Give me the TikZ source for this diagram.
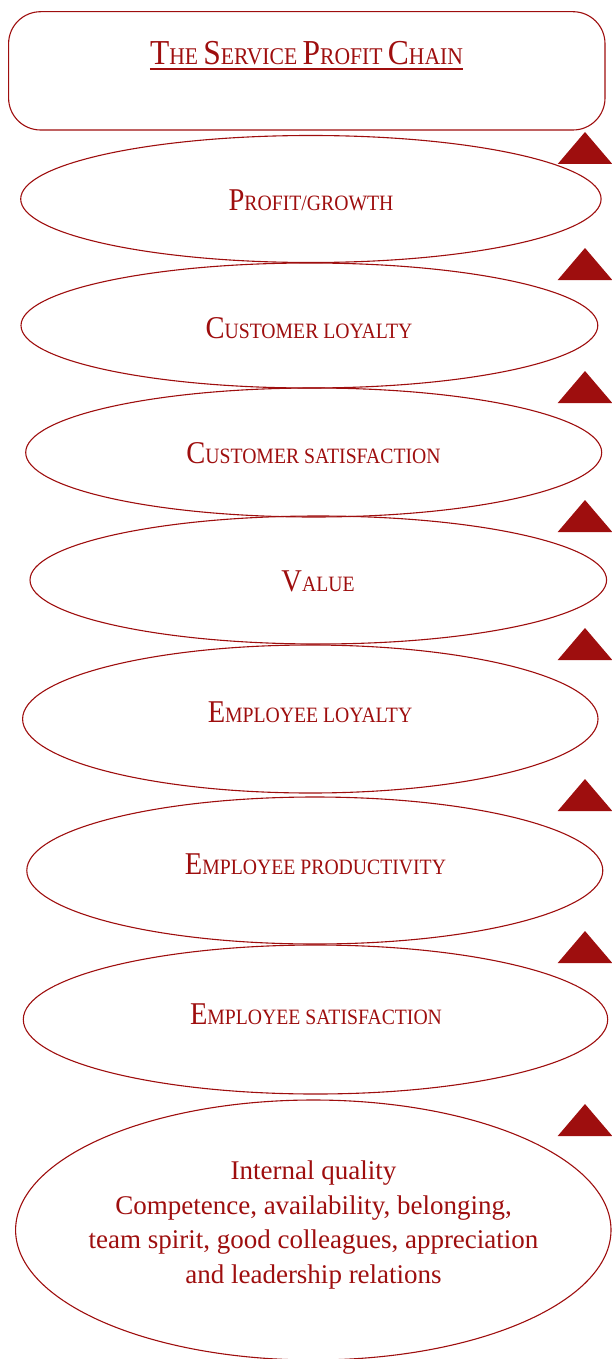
\documentclass[tikz,border=0pt]{standalone}
\usepackage{fontspec}
\setmainfont{Liberation Serif}
\newfontfamily\scfont{Liberation Serif}[FakeStretch=0.9]
\usetikzlibrary{shapes.geometric}
\definecolor{chainred}{RGB}{158,14,14}
\newcommand\scBig[1]{{\fontsize{31.7}{36}\selectfont #1}}
\newcommand\scSmall[1]{{\fontsize{21.9}{26}\selectfont #1}}
\newcommand\ttlBig[1]{{\fontsize{35}{40}\selectfont #1}}
\newcommand\ttlSmall[1]{{\fontsize{24}{28}\selectfont #1}}
\begin{document}
\begin{tikzpicture}[x=1pt,y=-1pt,
  ell/.style={ellipse, draw=chainred, line width=1.1pt, inner sep=0pt},
  lbl/.style={text=chainred, inner sep=0pt, anchor=base, font=\scfont},
  up/.style={fill=chainred}]
\useasboundingbox (0,0) rectangle (611,1359);
% title box
\node[draw=chainred, line width=1.1pt, rounded corners=32pt, minimum width=596.4pt, minimum height=118.3pt, inner sep=0pt] (box) at (306.8,70.85) {};
\node[lbl] (title) at (306.5,65) {\ttlBig{T}\ttlSmall{HE }\ttlBig{S}\ttlSmall{ERVICE }\ttlBig{P}\ttlSmall{ROFIT }\ttlBig{C}\ttlSmall{HAIN}};
\draw[chainred, line width=1.2pt] ([yshift=-4pt]title.base west) -- ([yshift=-4pt]title.base east);
% ellipses
\node[ell, minimum width=580.4pt, minimum height=127pt] (e1) at (310.9,199) {};
\node[ell, minimum width=576.8pt, minimum height=125pt] (e2) at (309.4,325.5) {};
\node[ell, minimum width=576pt, minimum height=129pt] (e3) at (313.7,452.5) {};
\node[ell, minimum width=576.6pt, minimum height=128pt] (e4) at (318.3,580) {};
\node[ell, minimum width=575.4pt, minimum height=148pt] (e5) at (310.3,719) {};
\node[ell, minimum width=576pt, minimum height=147pt] (e6) at (314.8,870.5) {};
\node[ell, minimum width=584.4pt, minimum height=149pt] (e7) at (315.5,1019.5) {};
\node[ell, minimum width=595.4pt, minimum height=260pt] (e8) at (313.3,1230) {};
% labels
\node[lbl] (t1) at (311,211) {\scBig{P}\scSmall{ROFIT/GROWTH}};
\node[lbl] (t2) at (309,338) {\scBig{C}\scSmall{USTOMER LOYALTY}};
\node[lbl] (t3) at (313.5,463) {\scBig{C}\scSmall{USTOMER SATISFACTION}};
\node[lbl] (t4) at (318,591) {\scBig{V}\scSmall{ALUE}};
\node[lbl] (t5) at (310,722) {\scBig{E}\scSmall{MPLOYEE LOYALTY}};
\node[lbl] (t6) at (315.5,874) {\scBig{E}\scSmall{MPLOYEE PRODUCTIVITY}};
\node[lbl] (t7) at (316,1024) {\scBig{E}\scSmall{MPLOYEE SATISFACTION}};
\node[text=chainred, align=center, inner sep=0pt, font=\fontsize{27}{34.5}\selectfont] (t8) at (313.5,1225) {Internal quality\\Competence, availability, belonging,\\team spirit, good colleagues, appreciation\\and leadership relations};
% upward triangles
\foreach \b in {164,280,403,532,660,811,963,1136}
  \fill[up] (557.7,\b) -- (585,\b-32) -- (612.3,\b) -- cycle;
\end{tikzpicture}
\end{document}
